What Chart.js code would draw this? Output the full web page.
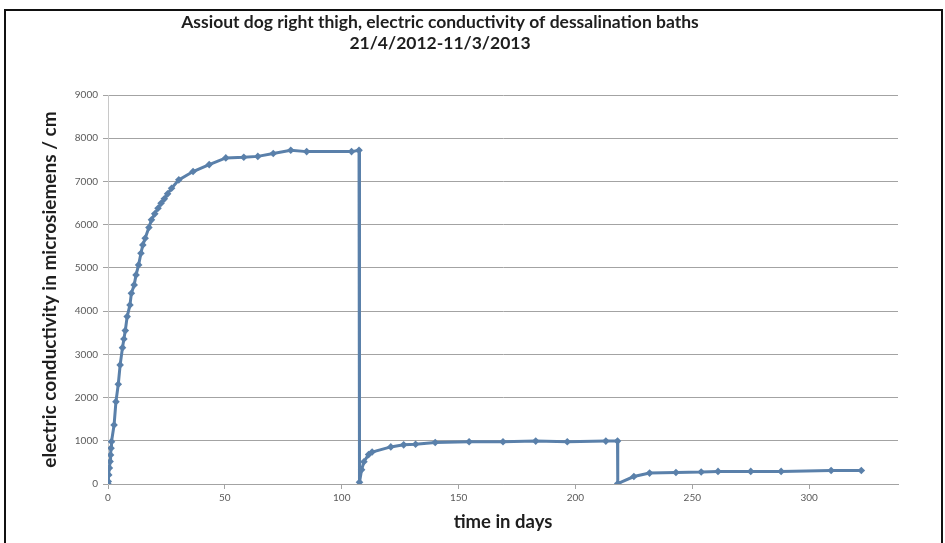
<!DOCTYPE html>
<html>
<head>
<meta charset="utf-8">
<script src="https://cdn.jsdelivr.net/npm/chart.js@4/dist/chart.umd.min.js"></script>
<style>
  html, body { margin: 0; padding: 0; background: #fff; }
  #wrap { position: relative; width: 945px; height: 543px; }
  #frame {
    position: absolute; left: 4px; top: 9px; width: 935px; height: 540px;
    border-top: 2px solid #111; border-left: 2px solid #111; border-right: 2px solid #111;
    pointer-events: none;
  }
</style>
</head>
<body>
<div id="wrap">
  <canvas id="chart" width="945" height="543"></canvas>
  <div id="frame"></div>
</div>
<script>
// chart text
const titleLines = ['Assiout dog right thigh, electric conductivity of dessalination baths', '21/4/2012-11/3/2013'];
const xTitle = 'time in days';
const yTitle = 'electric conductivity in microsiemens / cm';

// tick labels
const xTickValues = [0, 50, 100, 150, 200, 250, 300];
const yTickValues = [0, 1000, 2000, 3000, 4000, 5000, 6000, 7000, 8000, 9000];

// bath 1
const days1 = [0, 0.1, 0.3, 0.6, 0.9, 1.1, 1.3, 1.5, 2.6, 3.4, 4.4, 5.2, 6.2, 6.8, 7.4, 8.2, 9.4, 10, 11.2, 12,
  13.1, 14.1, 14.9, 15.9, 17.5, 18.6, 20, 21.4, 22.7, 24.1, 25.5, 27.2, 30.3, 36.4, 43.3, 50.4, 58.1, 64.1, 70.7,
  78.2, 85, 104.2, 107.4];
const cond1 = [0, 60, 210, 370, 520, 670, 830, 980, 1365, 1905, 2308, 2755, 3155, 3356, 3549, 3873, 4143, 4414, 4606, 4838,
  5069, 5340, 5532, 5687, 5933, 6111, 6250, 6381, 6497, 6597, 6713, 6844, 7037, 7229, 7390, 7545, 7560, 7580, 7645,
  7720, 7690, 7690, 7720];

// bath 2
const days2 = [107.6, 108.5, 109.5, 111.5, 113, 121, 126.5, 131.6, 140, 154.5, 169, 183, 196.5, 213, 218];
const cond2 = [40, 330, 515, 680, 740, 858, 906, 921, 961, 976, 976, 992, 976, 992, 992];

// bath 3
const days3 = [218.1, 225, 231.7, 243, 253.8, 261, 275, 288, 309.4, 322.3];
const cond3 = [10, 173, 252, 267, 276, 291, 291, 291, 314, 314];

const allDays = days1.concat(days2, days3);
const allCond = cond1.concat(cond2, cond3);
const points = allDays.map((d, i) => ({ x: d, y: allCond[i] }));

const lineColor = '#5a80aa';
const gridColor = '#a3a3a3';
const tickColor = '#5a5a5a';

// draws the two-line title, Excel puts it left of centre
const titlePlugin = {
  id: 'excelTitle',
  afterDraw(chart) {
    const ctx = chart.ctx;
    ctx.save();
    ctx.font = 'bold 17.5px Lato';
    ctx.fillStyle = '#1e1e1e';
    ctx.textAlign = 'center';
    ctx.textBaseline = 'middle';
    ctx.fillText(titleLines[0], 440, 22);
    ctx.fillText(titleLines[1], 440, 43);
    ctx.restore();
  }
};

new Chart(document.getElementById('chart').getContext('2d'), {
  type: 'scatter',
  data: {
    datasets: [{
      data: points,
      showLine: true,
      borderColor: lineColor,
      backgroundColor: lineColor,
      borderWidth: 3,
      pointStyle: 'rectRot',
      pointRadius: 3.8,
      pointBorderWidth: 0,
      tension: 0
    }]
  },
  options: {
    responsive: false,
    animation: false,
    layout: { padding: { left: 38, right: 47, top: 95, bottom: 8 } },
    plugins: {
      legend: { display: false },
      tooltip: { enabled: false }
    },
    scales: {
      x: {
        type: 'linear',
        min: 0,
        max: 338,
        afterBuildTicks: s => { s.ticks = xTickValues.map(v => ({ value: v })); },
        afterFit: s => { s.height = 51; },
        grid: { drawOnChartArea: false, tickLength: 5, color: gridColor },
        border: { color: gridColor },
        ticks: { color: tickColor, font: { family: 'Lato', size: 10 }, padding: 3, maxRotation: 0, callback: v => String(v) },
        title: {
          display: true, text: xTitle, color: '#1e1e1e',
          font: { family: 'Lato', size: 18.5, weight: 'bold' },
          padding: { top: 2, bottom: 2 }
        }
      },
      y: {
        min: 0,
        max: 9000,
        afterBuildTicks: s => { s.ticks = yTickValues.map(v => ({ value: v })); },
        afterFit: s => { s.width = 70; },
        grid: { color: gridColor, tickLength: 5 },
        border: { color: '#c8c8c8' },
        ticks: { color: tickColor, font: { family: 'Lato', size: 10 }, padding: 5, callback: v => String(v) },
        title: {
          display: true, text: yTitle, color: '#1e1e1e',
          font: { family: 'Lato', size: 19, weight: 'bold' },
          padding: { top: 0, bottom: 0 }
        }
      }
    }
  },
  plugins: [titlePlugin]
});
</script>
</body>
</html>
